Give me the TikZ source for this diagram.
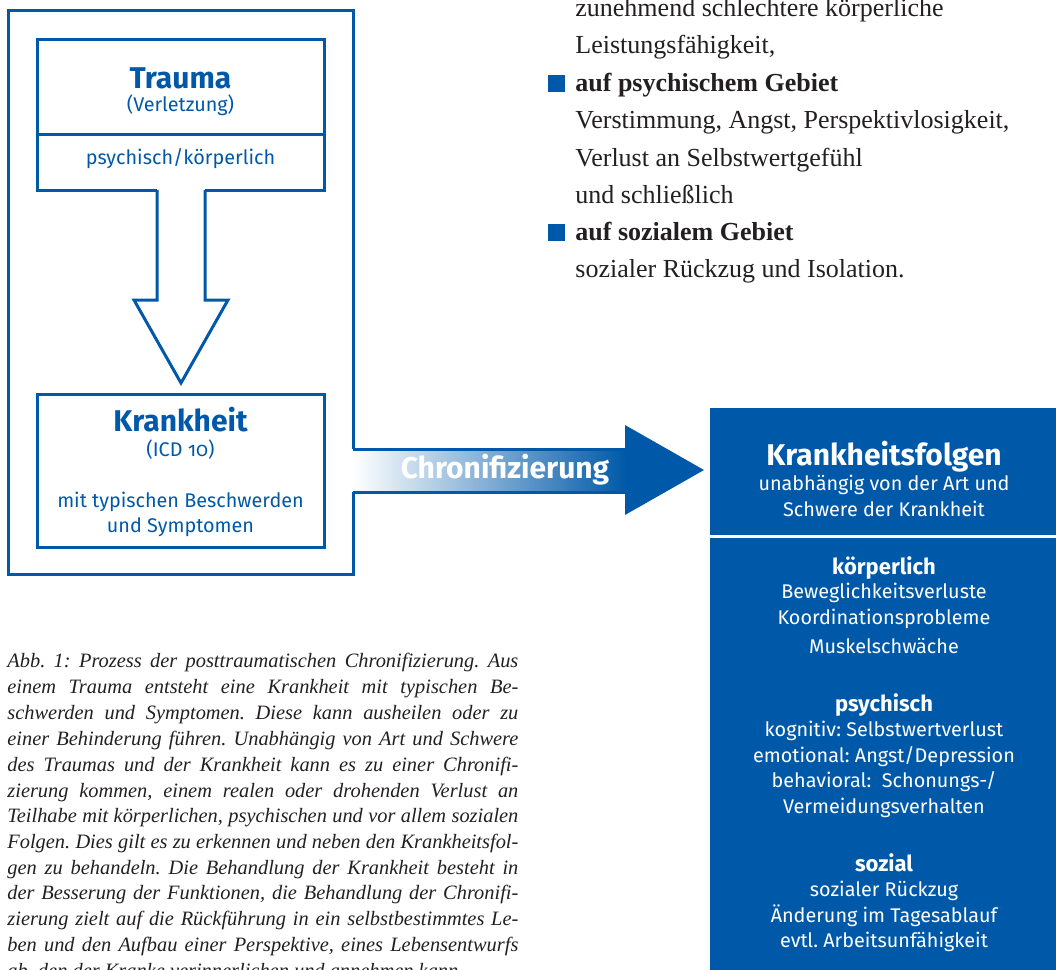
\documentclass[tikz,border=0pt]{standalone}
\usepackage{fontspec}
\setmainfont{Liberation Serif}
\newfontfamily\fira{Fira Sans}[Numbers=OldStyle]
\definecolor{dblue}{RGB}{0,89,168}
\definecolor{ink}{RGB}{35,31,32}
\frenchspacing
\newcommand\capline[1]{\makebox[255.5pt][s]{#1}}
\tikzset{
 blueline/.style={draw=dblue, line width=1.5pt},
 ltxt/.style={font=\fira\fontsize{9.9}{12}\selectfont, text=dblue, inner sep=0pt, anchor=base},
 lhead/.style={font=\fira\bfseries\fontsize{15}{18}\selectfont, text=dblue, inner sep=0pt, anchor=base},
 rtxt/.style={font=\fira\fontsize{9.9}{12}\selectfont, text=white, inner sep=0pt, anchor=base},
 rsub/.style={font=\fira\bfseries\fontsize{11}{13}\selectfont, text=white, inner sep=0pt, anchor=base},
 rhead/.style={font=\fira\bfseries\fontsize{15}{18}\selectfont, text=white, inner sep=0pt, anchor=base},
 stxt/.style={font=\fontsize{13}{15}\selectfont, text=ink, inner sep=0pt, anchor=base west},
 captxt/.style={font=\itshape\fontsize{10.2}{12}\selectfont, text=ink, inner sep=0pt, anchor=base west},
}
\begin{document}
\begin{tikzpicture}[x=0.5pt,y=-0.5pt]
\useasboundingbox (0,0) rectangle (1056,970);
\clip (0,0) rectangle (1056,970);

% outer frame with opening for the Chronifizierung arrow
\draw[blueline] (353,449) -- (353,10) -- (8,10) -- (8,574) -- (353,574) -- (353,492);
% Chronifizierung arrow
\shade[left color=white, right color=dblue] (353,449) rectangle (626,492);
\fill[dblue] (625,425) -- (704,470) -- (625,515) -- cycle;
\draw[dblue, line width=1.5pt] (353,449) -- (626,449);
\draw[dblue, line width=1.5pt] (353,492) -- (626,492);
\node[font=\fira\bfseries\fontsize{15}{18}\selectfont, text=white, inner sep=0pt, anchor=base] (chron) at (505,478) {Chronifizierung};

% Trauma box
\draw[blueline] (157,190) -- (37,190) -- (37,39) -- (324,39) -- (324,190) -- (205,190);
\draw[blueline] (37,134) -- (324,134);
\draw[blueline, fill=white] (157,190) -- (157,300) -- (134,300) -- (181,383) -- (228,300) -- (205,300) -- (205,190);
\node[lhead] (trauma) at (180.5,88) {Trauma};
\node[ltxt] (verl) at (180.5,111) {(Verletzung)};
\node[ltxt] (psyk) at (180.5,164) {psychisch/körperlich};

% Krankheit box
\draw[blueline] (37,394) rectangle (324,547);
\node[lhead] (krank) at (180.5,431) {Krankheit};
\node[ltxt] (icd) at (180.5,456) {(ICD 10)};
\node[ltxt] (mit) at (180.5,507) {mit typischen Beschwerden};
\node[ltxt] (und) at (180.5,532) {und Symptomen};

% right box
\fill[dblue] (710,408) rectangle (1056,970);
\draw[white, line width=1.5pt] (710,536) -- (1056,536);
\node[rhead] (kf) at (884,465) {Krankheitsfolgen};
\node[rtxt] (r1) at (884,490) {unabhängig von der Art und};
\node[rtxt] (r2) at (884,516) {Schwere der Krankheit};
\node[rsub] (r3) at (884,574) {körperlich};
\node[rtxt] (r4) at (884,598) {Beweglichkeitsverluste};
\node[rtxt] (r5) at (884,624) {Koordinationsprobleme};
\node[rtxt] (r6) at (884,653) {Muskelschwäche};
\node[rsub] (r7) at (884,711) {psychisch};
\node[rtxt] (r8) at (884,736) {kognitiv: Selbstwertverlust};
\node[rtxt] (r9) at (884,762) {emotional: Angst/Depression};
\node[rtxt] (r10) at (884,787) {behavioral:\ \ Schonungs-/};
\node[rtxt] (r11) at (884,813) {Vermeidungsverhalten};
\node[rsub] (r12) at (884,871) {sozial};
\node[rtxt] (r13) at (884,896) {sozialer Rückzug};
\node[rtxt] (r14) at (884,922) {Änderung im Tagesablauf};
\node[rtxt] (r15) at (884,947) {evtl. Arbeitsunfähigkeit};

% serif text top right
\fill[dblue] (548,75) rectangle (565,92);
\fill[dblue] (548,224) rectangle (565,241);
\node[stxt] (s1) at (575,16) {zunehmend schlechtere körperliche};
\node[stxt] (s2) at (575,53) {Leistungsfähigkeit,};
\node[stxt] (s3) at (575,91) {\textbf{auf psychischem Gebiet}};
\node[stxt] (s4) at (575,128) {Verstimmung, Angst, Perspektivlosigkeit,};
\node[stxt] (s5) at (575,166) {Verlust an Selbstwertgefühl};
\node[stxt] (s6) at (575,203) {und schließlich};
\node[stxt] (s7) at (575,240) {\textbf{auf sozialem Gebiet}};
\node[stxt] (s8) at (575,277) {sozialer Rückzug und Isolation.};

% caption
\node[captxt] (c1) at (7,667) {\capline{Abb. 1: Prozess der posttraumatischen Chronifizierung. Aus}};
\node[captxt] (c2) at (7,693) {\capline{einem Trauma entsteht eine Krankheit mit typischen Be-}};
\node[captxt] (c3) at (7,719) {\capline{schwerden und Symptomen. Diese kann ausheilen oder zu}};
\node[captxt] (c4) at (7,745) {\capline{einer Behinderung führen. Unabhängig von Art und Schwere}};
\node[captxt] (c5) at (7,771) {\capline{des Traumas und der Krankheit kann es zu einer Chronifi-}};
\node[captxt] (c6) at (7,797) {\capline{zierung kommen, einem realen oder drohenden Verlust an}};
\node[captxt] (c7) at (7,822) {\capline{Teilhabe mit körperlichen, psychischen und vor allem sozialen}};
\node[captxt] (c8) at (7,848) {\capline{Folgen. Dies gilt es zu erkennen und neben den Krankheitsfol-}};
\node[captxt] (c9) at (7,874) {\capline{gen zu behandeln. Die Behandlung der Krankheit besteht in}};
\node[captxt] (c10) at (7,899) {\capline{der Besserung der Funktionen, die Behandlung der Chronifi-}};
\node[captxt] (c11) at (7,925) {\capline{zierung zielt auf die Rückführung in ein selbstbestimmtes Le-}};
\node[captxt] (c12) at (7,951) {\capline{ben und den Aufbau einer Perspektive, eines Lebensentwurfs}};
\node[captxt] (c13) at (7,977) {ab, den der Kranke verinnerlichen und annehmen kann.};
\end{tikzpicture}
\end{document}
